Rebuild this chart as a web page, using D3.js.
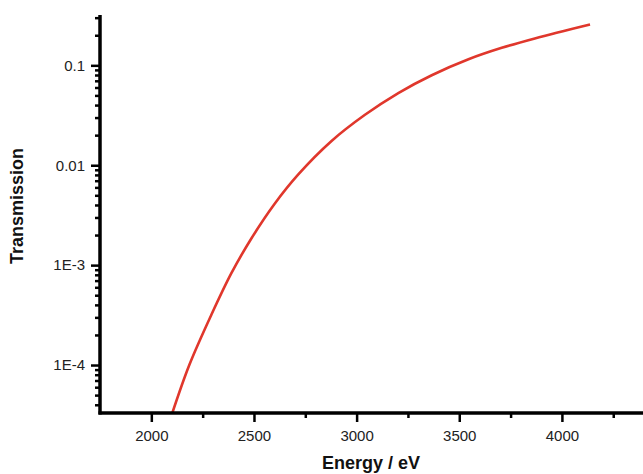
<!DOCTYPE html>
<html>
<head>
<meta charset="utf-8">
<script src="https://cdn.jsdelivr.net/npm/d3@7"></script>
<style>
  html, body { margin: 0; padding: 0; background: #fff; }
  svg { display: block; }
  text { font-family: "Liberation Sans", Arial, sans-serif; }
</style>
</head>
<body>
<svg id="chart" width="643" height="474"></svg>
<script>
// Data
const energy = [2102, 2185, 2293, 2390, 2488, 2600, 2716, 2878, 3039, 3203, 3366, 3545, 3707, 3868, 4137];
const transmission = [3.3e-5, 1.0e-4, 3.2e-4, 8.3e-4, 1.86e-3, 4.1e-3, 8.1e-3, 0.0175, 0.0318, 0.0528, 0.0796, 0.115, 0.1496, 0.186, 0.256];
const xMajorTicks = [2000, 2500, 3000, 3500, 4000];
const xMinorTicks = [2250, 2750, 3250, 3750, 4250];
const yMajorTicks = [1e-4, 1e-3, 0.01, 0.1];
const yTickLabels = ["1E-4", "1E-3", "0.01", "0.1"];
const yMinorTicks = [];
[1e-5, 1e-4, 1e-3, 0.01, 0.1].forEach(d => { for (let k = 2; k <= 9; k++) yMinorTicks.push(d * k); });

const svg = d3.select("#chart");
const x = d3.scaleLinear().domain([1750, 4395]).range([100, 643]);
const y = d3.scaleLog().domain([3.31e-5, 0.319]).range([413, 15]);

const yMinorIn = yMinorTicks.filter(v => v >= 3.31e-5 && v <= 0.319);

// Clip for the curve
svg.append("clipPath").attr("id", "plot").append("rect")
  .attr("x", 100).attr("y", 0).attr("width", 543).attr("height", 413);

// Y axis
const yAxisMajor = d3.axisLeft(y).tickValues(yMajorTicks).tickFormat((d, i) => yTickLabels[i]).tickSize(9).tickPadding(6);
const yAxisMinor = d3.axisLeft(y).tickValues(yMinorIn).tickFormat("").tickSize(5);
const gy = svg.append("g").attr("transform", "translate(100,0)");
gy.call(yAxisMinor);
const gy2 = svg.append("g").attr("transform", "translate(100,0)").call(yAxisMajor);

// X axis
const xAxisMajor = d3.axisBottom(x).tickValues(xMajorTicks).tickFormat(d3.format("d")).tickSize(9).tickPadding(8);
const xAxisMinor = d3.axisBottom(x).tickValues(xMinorTicks).tickFormat("").tickSize(5);
const gx = svg.append("g").attr("transform", "translate(0,413)");
gx.call(xAxisMinor);
const gx2 = svg.append("g").attr("transform", "translate(0,413)").call(xAxisMajor);

[gy, gy2, gx, gx2].forEach(g => {
  g.select(".domain").remove();
  g.selectAll(".tick line").attr("stroke", "#000").attr("stroke-width", 2.5);
  g.selectAll(".tick text").attr("fill", "#222").style("font-size", "15px");
});

// Curve
const line = d3.line().x((d, i) => x(energy[i])).y(d => y(d)).curve(d3.curveCatmullRom.alpha(0.5));
svg.append("path").datum(transmission).attr("d", line).attr("clip-path", "url(#plot)")
  .attr("fill", "none").attr("stroke", "#e0372c").attr("stroke-width", 2.6);

// Axis lines
svg.append("line").attr("x1", 100).attr("x2", 100).attr("y1", y.range()[1]).attr("y2", 414.5)
  .attr("stroke", "#000").attr("stroke-width", 3.5);
svg.append("line").attr("x1", 98.5).attr("x2", 643).attr("y1", 413).attr("y2", 413)
  .attr("stroke", "#000").attr("stroke-width", 3.5);

// Titles
svg.append("text").attr("x", 371).attr("y", 469).attr("text-anchor", "middle")
  .style("font-size", "18px").style("font-weight", "bold").attr("fill", "#111").text("Energy / eV");
svg.append("text").attr("transform", "translate(23,206) rotate(-90)").attr("text-anchor", "middle")
  .style("font-size", "18px").style("font-weight", "bold").attr("fill", "#111").text("Transmission");
</script>
</body>
</html>
